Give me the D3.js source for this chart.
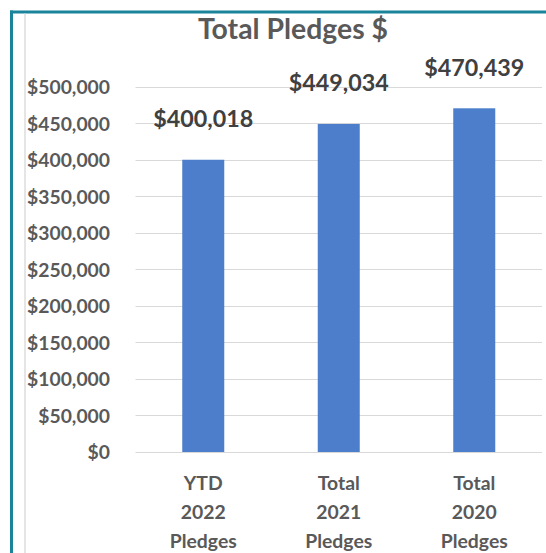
<!DOCTYPE html>
<html>
<head>
<meta charset="utf-8">
<script src="https://cdn.jsdelivr.net/npm/d3@7"></script>
<style>
  html, body { margin: 0; padding: 0; background: #fff; }
  svg { display: block; }
  text { font-family: Lato, "Open Sans", sans-serif; font-weight: 700; }
</style>
</head>
<body>
<svg id="chart" width="546" height="553"></svg>
<script>
const categories = [["YTD", "2022", "Pledges"], ["Total", "2021", "Pledges"], ["Total", "2020", "Pledges"]];
const values = [400018, 449034, 470439];
const yTicks = [0, 50000, 100000, 150000, 200000, 250000, 300000, 350000, 400000, 450000, 500000];
const title = "Total Pledges $";

const svg = d3.select("#chart");
const fmt = d3.format("$,.0f");

// fit font size so a reference string has a target width
function fitSize(str, target, base) {
  const t = svg.append("text").attr("font-size", base).text(str);
  const w = t.node().getComputedTextLength();
  t.remove();
  return base * target / w;
}
const titleSize = fitSize(title, 190, 20);
const ySize = fitSize("$500,000", 83, 20);
const dataSize = fitSize("$400,018", 100, 20);
const xSize = fitSize("Pledges", 67, 20);

// frame
svg.append("line").attr("x1", 10).attr("x2", 546).attr("y1", 12).attr("y2", 12)
  .attr("stroke", "#19849a").attr("stroke-width", 3);
svg.append("line").attr("x1", 11.5).attr("x2", 11.5).attr("y1", 10.5).attr("y2", 553)
  .attr("stroke", "#19849a").attr("stroke-width", 3);
svg.append("line").attr("x1", 25).attr("x2", 25).attr("y1", 13.5).attr("y2", 553)
  .attr("stroke", "#dcdcdc").attr("stroke-width", 1.5);

const x = d3.scaleBand()
  .domain(d3.range(categories.length))
  .range([135.5, 542])
  .paddingInner(0.69)
  .paddingOuter(0.345);
const y = d3.scaleLinear().domain([0, 500000]).range([452, 86.7]);

// gridlines
svg.append("g").selectAll("line").data(yTicks).join("line")
  .attr("x1", 135.5).attr("x2", 542)
  .attr("y1", d => Math.round(y(d)) + 0.5).attr("y2", d => Math.round(y(d)) + 0.5)
  .attr("stroke", "#d9d9d9").attr("stroke-width", 1);

// y axis labels
const yAxis = d3.axisLeft(y).tickValues(yTicks).tickFormat(fmt).tickSize(0).tickPadding(0);
const gy = svg.append("g").attr("transform", "translate(110,0)").call(yAxis);
gy.select(".domain").remove();
gy.selectAll("text")
  .attr("font-family", "Lato, 'Open Sans', sans-serif")
  .attr("font-weight", 700)
  .attr("font-size", ySize)
  .attr("fill", "#595959")
  .attr("dy", "0.36em");

// bars
svg.append("g").selectAll("rect").data(values).join("rect")
  .attr("x", (d, i) => x(i))
  .attr("width", x.bandwidth())
  .attr("y", d => y(d))
  .attr("height", d => y(0) - y(d))
  .attr("fill", "#4d7ecb");

// data labels
svg.append("g").selectAll("text").data(values).join("text")
  .attr("x", (d, i) => x(i) + x.bandwidth() / 2)
  .attr("y", d => y(d) - 32.7)
  .attr("text-anchor", "middle")
  .attr("font-size", dataSize)
  .attr("fill", "#404040")
  .text(d => fmt(d));

// x category labels
const lineY = [490, 519.3, 548.3];
const gx = svg.append("g");
categories.forEach((lines, i) => {
  lines.forEach((ln, j) => {
    gx.append("text")
      .attr("x", x(i) + x.bandwidth() / 2)
      .attr("y", lineY[j])
      .attr("text-anchor", "middle")
      .attr("font-size", xSize)
      .attr("fill", "#595959")
      .text(ln);
  });
});

// title
svg.append("text")
  .attr("x", 293).attr("y", 38.5)
  .attr("text-anchor", "middle")
  .attr("font-size", titleSize)
  .attr("fill", "#595959")
  .text(title);
</script>
</body>
</html>
